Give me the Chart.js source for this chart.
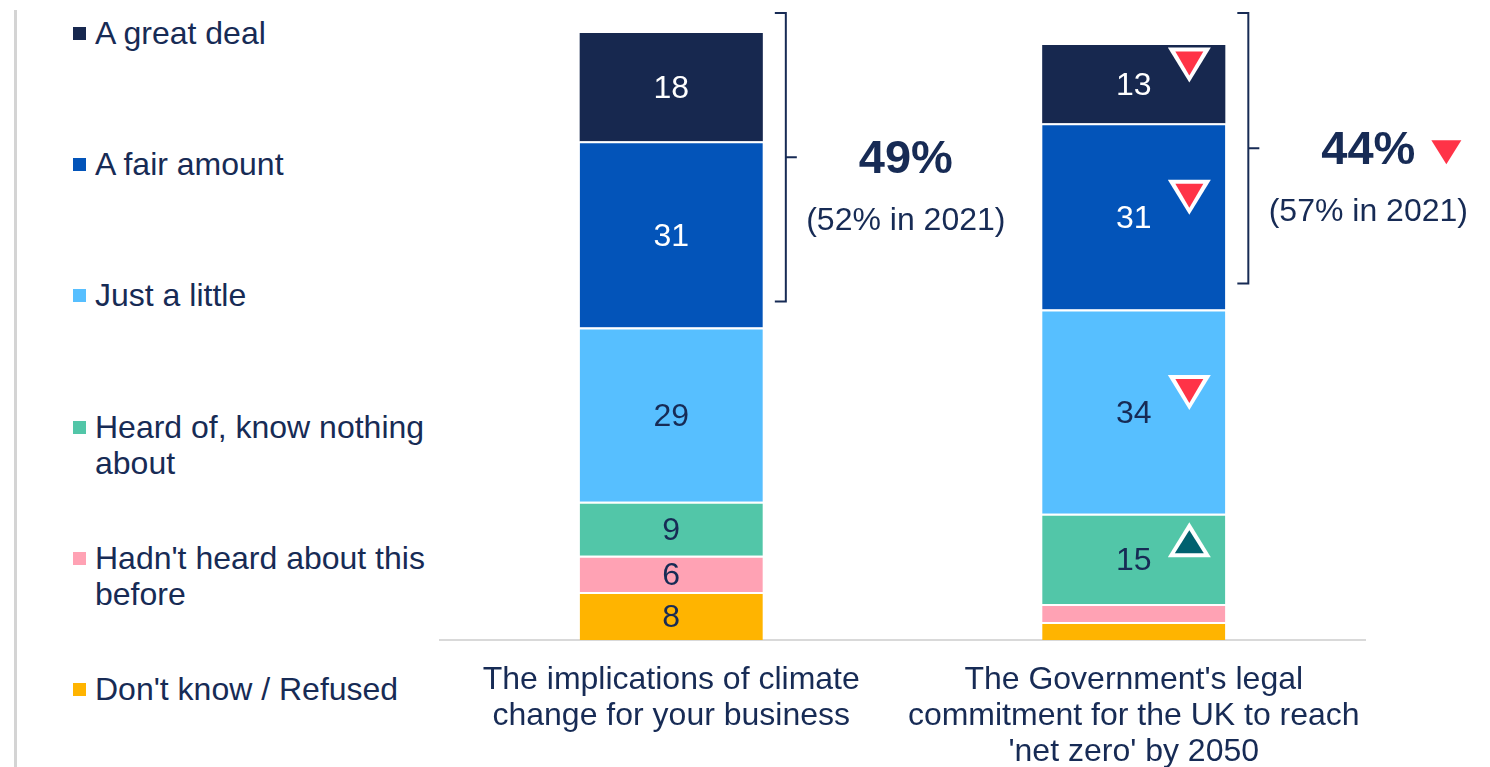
<!DOCTYPE html>
<html>
<head>
<meta charset="utf-8">
<title>Awareness of climate change and net zero</title>
<script src="https://cdn.jsdelivr.net/npm/chart.js@4.4.1/dist/chart.umd.min.js"></script>
<style>
  body { margin: 0; background: #fff; font-family: Arial, "Liberation Sans", sans-serif; color: #172b55; }
  #wrap { position: relative; width: 1490px; height: 767px; overflow: hidden; }
  #rule { position: absolute; left: 14px; top: 10px; width: 3px; height: 757px; background: #d4d4d4; }
  #legend .item { position: absolute; left: 73px; width: 370px; font-size: 32px; line-height: 36px; }
  #legend .swatch { position: absolute; left: 0; top: 12px; width: 13px; height: 13px; }
  #legend .text { margin-left: 22px; width: 340px; }
  #chartBox { position: absolute; left: 0; top: 0; width: 1490px; height: 767px; }
</style>
</head>
<body>
<div id="wrap">
  <div id="rule"></div>
  <div id="legend"></div>
  <div id="chartBox"><canvas id="awareness-chart"></canvas></div>
</div>
<script>
// categories (multi-line axis labels)
var categories = [
  ["The implications of climate", "change for your business"],
  ["The Government's legal", "commitment for the UK to reach", "'net zero' by 2050"]
];

// answer options, top of the stack first
var seriesNames = ["A great deal", "A fair amount", "Just a little", "Heard of, know nothing about", "Hadn't heard about this before", "Don't know / Refused"];
var seriesColours = ["#17284f", "#0354b9", "#57bfff", "#52c6a8", "#ffa2b4", "#ffb400"];

// % of businesses
var greatDeal    = [18, 13];
var fairAmount   = [31, 31];
var justALittle  = [29, 34];
var heardNothing = [9, 15];
var hadntHeard   = [6, 3];
var dontKnow     = [8, 3];

// great deal + fair amount, and the 2021 figure
var awareTotal = [49, 44];
var aware2021  = [52, 57];

// significant change since 2021 (same order as seriesNames)
var changeMarks = [[null, 'down'], [null, 'down'], [null, 'down'], [null, 'up'], [null, null], [null, null]];
var totalChange = [null, 'down'];

var seriesValues = [greatDeal, fairAmount, justALittle, heardNothing, hadntHeard, dontKnow];
var textNavy = '#172b55';
var redMark = '#ff3347';
var tealMark = '#00616f';
var fontFamily = 'Arial, "Liberation Sans", sans-serif';

// ======
// legend on the left
// ======
var legendTops = [15, 146, 277, 409, 540, 671];
var legendEl = document.getElementById('legend');
seriesNames.forEach(function(name, i) {
  var item = document.createElement('div');
  item.className = 'item';
  item.style.top = legendTops[i] + 'px';
  item.innerHTML = '<span class="swatch" style="background:' + seriesColours[i] + '"></span><div class="text"></div>';
  item.querySelector('.text').textContent = name;
  legendEl.appendChild(item);
});

// stack is drawn bottom-up, so reverse
var datasets = [];
for (var i = seriesNames.length - 1; i >= 0; i--) {
  datasets.push({
    label: seriesNames[i],
    data: seriesValues[i],
    backgroundColor: seriesColours[i],
    borderColor: '#ffffff',
    borderWidth: i === 0 ? 0 : { top: 2, right: 0, bottom: 0, left: 0 },
    borderSkipped: false,
    seriesIndex: i
  });
}

function triangle(ctx, cx, top, w, h, dir) {
  ctx.beginPath();
  if (dir === 'down') {
    ctx.moveTo(cx - w / 2, top);
    ctx.lineTo(cx + w / 2, top);
    ctx.lineTo(cx, top + h);
  } else {
    ctx.moveTo(cx, top);
    ctx.lineTo(cx + w / 2, top + h);
    ctx.lineTo(cx - w / 2, top + h);
  }
  ctx.closePath();
  ctx.fill();
}

// values inside the segments + change markers
var segmentLabels = {
  id: 'segmentLabels',
  afterDatasetsDraw: function(chart) {
    var ctx = chart.ctx;
    ctx.save();
    ctx.font = '32px ' + fontFamily;
    ctx.textAlign = 'center';
    ctx.textBaseline = 'middle';
    chart.data.datasets.forEach(function(ds, d) {
      var s = ds.seriesIndex;
      chart.getDatasetMeta(d).data.forEach(function(bar, j) {
        var h = bar.base - bar.y;
        if (h < 25) return;
        var cy = (bar.y + bar.base) / 2 + 2.5;
        ctx.fillStyle = s < 2 ? '#ffffff' : textNavy;
        ctx.fillText(ds.data[j], bar.x, cy);
        var mark = changeMarks[s][j];
        if (mark) {
          var cx = bar.x + bar.width / 2 - 36;
          var top = cy - 39;
          ctx.fillStyle = '#ffffff';
          triangle(ctx, cx, top, 43, 35, mark);
          ctx.fillStyle = mark === 'down' ? redMark : tealMark;
          if (mark === 'down') triangle(ctx, cx, top + 4, 28, 24, 'down');
          else triangle(ctx, cx, top + 8, 29, 23, 'up');
        }
      });
    });
    ctx.restore();
  }
};

// brackets over great deal + fair amount with the totals
var awareBrackets = {
  id: 'awareBrackets',
  afterDatasetsDraw: function(chart) {
    var ctx = chart.ctx;
    var lbIndex = seriesNames.length - 1 - 2; // "Just a little" dataset
    var lbMeta = chart.getDatasetMeta(lbIndex);
    ctx.save();
    ctx.strokeStyle = textNavy;
    ctx.fillStyle = textNavy;
    ctx.lineWidth = 2;
    lbMeta.data.forEach(function(bar, j) {
      var x = bar.x + bar.width / 2 + 23;
      var top = chart.chartArea.top - 20;
      var bottom = bar.y - 26;
      var mid = (top + bottom) / 2;
      ctx.beginPath();
      ctx.moveTo(x - 11, top);
      ctx.lineTo(x, top);
      ctx.lineTo(x, bottom);
      ctx.lineTo(x - 11, bottom);
      ctx.moveTo(x, mid);
      ctx.lineTo(x + 11, mid);
      ctx.stroke();

      var tx = x + 120;
      ctx.textAlign = 'center';
      ctx.textBaseline = 'middle';
      ctx.font = 'bold 47px ' + fontFamily;
      var big = awareTotal[j] + '%';
      ctx.fillText(big, tx, mid + 3);
      if (totalChange[j] === 'down') {
        var w = ctx.measureText(big).width;
        ctx.fillStyle = redMark;
        triangle(ctx, tx + w / 2 + 31, mid - 8, 30, 24, 'down');
        ctx.fillStyle = textNavy;
      }
      ctx.font = '32px ' + fontFamily;
      ctx.fillText('(' + aware2021[j] + '% in 2021)', tx, mid + 64);
    });
    ctx.restore();
  }
};

var ctx = document.getElementById('awareness-chart').getContext('2d');
var chart = new Chart(ctx, {
  type: 'bar',
  data: {
    labels: categories,
    datasets: datasets
  },
  options: {
    responsive: true,
    maintainAspectRatio: false,
    animation: false,
    layout: { padding: { left: 440, right: 125, top: 33, bottom: 0 } },
    datasets: { bar: { categoryPercentage: 1, barPercentage: 0.396 } },
    plugins: { legend: { display: false }, tooltip: { enabled: false } },
    scales: {
      x: {
        stacked: true,
        grid: { display: false, drawTicks: false },
        border: { display: true, color: '#d9d9d9', width: 2 },
        ticks: {
          color: textNavy,
          padding: 22,
          maxRotation: 0,
          font: { family: fontFamily, size: 32, lineHeight: 1.125 }
        },
        afterFit: function(scale) { scale.height = 127; }
      },
      y: { stacked: true, display: false, min: 0, max: 101 }
    }
  },
  plugins: [segmentLabels, awareBrackets]
});
</script>
</body>
</html>
